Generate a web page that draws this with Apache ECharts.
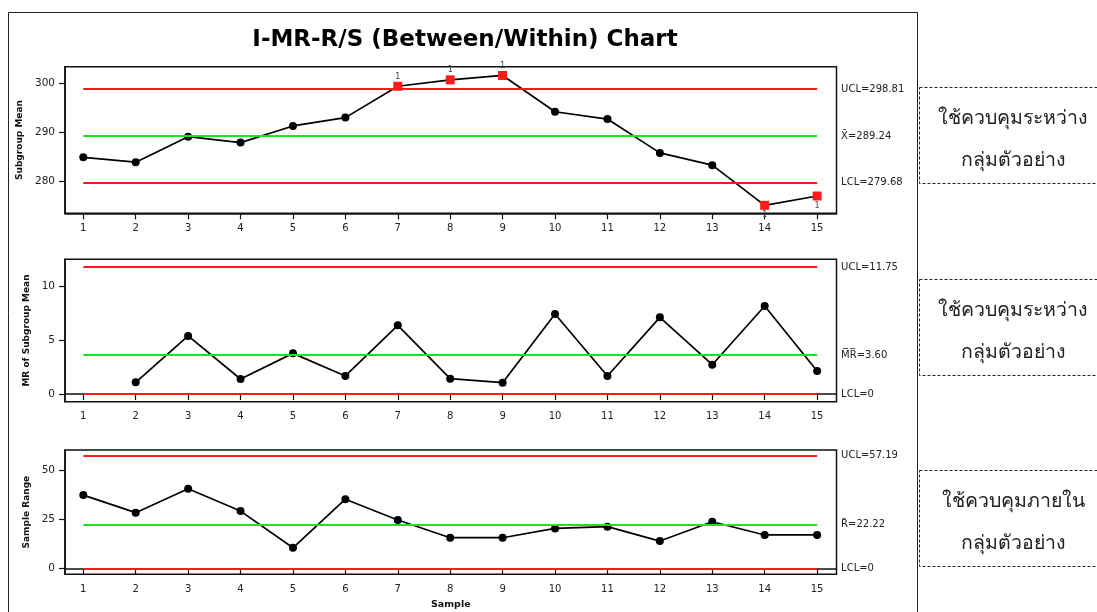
<!DOCTYPE html>
<html><head><meta charset="utf-8">
<script src="https://cdn.jsdelivr.net/npm/echarts@6/dist/echarts.min.js"></script>
<style>html,body{margin:0;padding:0;background:#fff}#c{width:1097px;height:612px}</style>
</head><body><div id="c"></div>
<script>
// ---------- data ----------
const samples = [1,2,3,4,5,6,7,8,9,10,11,12,13,14,15];
const subgroupMean = [284.9,283.9,289.1,287.9,291.3,293.0,299.4,300.7,301.6,294.2,292.7,285.8,283.3,275.1,277.0];
const mrOfMean = [null,1.08,5.37,1.39,3.76,1.67,6.35,1.42,1.05,7.40,1.67,7.09,2.71,8.14,2.13];
const sampleRange = [37.3,28.4,40.5,29.2,10.6,35.2,24.7,15.7,15.7,20.4,21.3,14.0,23.8,17.1,17.1];
const outOfControl = [7,8,9,14,15];           // subgroup-mean samples flagged by test 1
const meanLimits = [298.81, 289.24, 279.68];   // UCL, CL, LCL
const mrLimits = [11.75, 3.60, 0];
const rangeLimits = [57.19, 22.22, 0];
const meanLimitLabels = ['UCL=298.81','X\u0304=289.24','LCL=279.68'];
const mrLimitLabels = ['UCL=11.75','M\u0305R\u0305=3.60','LCL=0'];
const rangeLimitLabels = ['UCL=57.19','R\u0304=22.22','LCL=0'];
const xTicks = [1,2,3,4,5,6,7,8,9,10,11,12,13,14,15];
const meanTicks = [280,290,300];
const mrTicks = [0,5,10];
const rangeTicks = [0,25,50];
const title = 'I-MR-R/S (Between/Within) Chart';
const yNames = ['Subgroup Mean','MR of Subgroup Mean','Sample Range'];
const xName = 'Sample';
const noteLines = [['ใช้ควบคุมระหว่าง','กลุ่มตัวอย่าง'],['ใช้ควบคุมระหว่าง','กลุ่มตัวอย่าง'],['ใช้ควบคุมภายใน','กลุ่มตัวอย่าง']];

// ---------- layout ----------
const RED = '#ff1a1a', GREEN = '#19e619', FONT = 'DejaVu Sans';
const grids = [
  {left:65, top:66.7, width:771.5, height:146.6},
  {left:65, top:259.3, width:771.5, height:142.4},
  {left:65, top:450, width:771.5, height:124.3}
];
const yRanges = [[273.47,303.39],[-0.71,12.46],[-2.84,60.16]];
const yTickSets = [meanTicks, mrTicks, rangeTicks];
const nameGaps = [37, 32, 31];
const limitSets = [meanLimits, mrLimits, rangeLimits];
const limitLabelSets = [meanLimitLabels, mrLimitLabels, rangeLimitLabels];
const valueSets = [subgroupMean, mrOfMean, sampleRange];
const limitColors = [RED, GREEN, RED];

const xAxes = grids.map((g,i)=>({
  type:'value', gridIndex:i, min:0.651, max:15.37,
  name: i===2 ? xName : '', nameLocation:'middle', nameGap:25,
  nameTextStyle:{fontFamily:FONT, fontWeight:'bold', fontSize:9.5, color:'#111'},
  axisLine:{show:true, lineStyle:{color:'#111', width:1.5}},
  axisTick:{show:true, customValues:xTicks, length:6, inside:false, lineStyle:{color:'#111', width:1.2}},
  axisLabel:{show:true, customValues:xTicks, fontFamily:FONT, fontSize:10, color:'#222', margin:10},
  splitLine:{show:false}
}));
const yAxes = grids.map((g,i)=>({
  type:'value', gridIndex:i, min:yRanges[i][0], max:yRanges[i][1],
  name: yNames[i], nameLocation:'middle', nameGap:nameGaps[i], nameRotate:90,
  nameTextStyle:{fontFamily:FONT, fontWeight:'bold', fontSize:9, color:'#111'},
  axisLine:{show:true, lineStyle:{color:'#111', width:1.5}},
  axisTick:{show:true, customValues:yTickSets[i], length:6, inside:false, lineStyle:{color:'#111', width:1.2}},
  axisLabel:{show:true, customValues:yTickSets[i], fontFamily:FONT, fontSize:10.5, color:'#222', margin:10},
  splitLine:{show:false}
}));

const series = [];
valueSets.forEach((vals,i)=>{
  // control limits
  series.push({
    type:'line', xAxisIndex:i, yAxisIndex:i, data:[], z:1, silent:true,
    markLine:{
      silent:true, symbol:['none','none'], animation:false,
      data: limitSets[i].map((v,k)=>[
        {coord:[samples[0], v], lineStyle:{color:limitColors[k], width:2, type:'solid'},
         label:{show:true, position:'end', distance:24, formatter:limitLabelSets[i][k],
                fontFamily:FONT, fontSize:10, color:'#222'}},
        {coord:[samples[samples.length-1], v]}
      ])
    }
  });
  // data
  const data = [];
  samples.forEach((s,k)=>{
    if (vals[k] == null) return;
    const bad = i===0 && outOfControl.includes(s);
    const item = {value:[s, vals[k]]};
    if (bad) {
      item.symbol = 'rect'; item.symbolSize = 9;
      item.itemStyle = {color:RED};
      item.label = {show:true, formatter:'1', position: vals[k] > meanLimits[0] ? 'top' : 'bottom',
        distance:1, fontFamily:FONT, fontSize:8, color:'#444'};
    }
    data.push(item);
  });
  series.push({
    type:'line', xAxisIndex:i, yAxisIndex:i, data, z:3,
    symbol:'circle', symbolSize:8, showSymbol:true,
    itemStyle:{color:'#000'}, lineStyle:{color:'#000', width:1.7},
    label:{show:false}, animation:false
  });
});

const graphic = [
  {type:'rect', shape:{x:8.5, y:12.5, width:909, height:640}, style:{fill:'none', stroke:'#222', lineWidth:1}, z:-1},
  {type:'text', x:465, y:40, style:{text:title, fontFamily:FONT, fontWeight:'bold', fontSize:23, fill:'#000', align:'center', verticalAlign:'middle'}}
];
const boxTops = [87.5, 279.5, 470.5];
boxTops.forEach((t,i)=>{
  graphic.push({type:'rect', shape:{x:919.5, y:t, width:200, height:96},
    style:{fill:'none', stroke:'#222', lineWidth:1, lineDash:[3,2]}});
  noteLines[i].forEach((ln,k)=>{
    graphic.push({type:'text', x:1013, y:t+31+k*42, style:{text:ln, fontFamily:'Noto Sans, DejaVu Sans, sans-serif', fontSize:19.5, fill:'#222', align:'center', verticalAlign:'middle'}});
  });
});

const chart = echarts.init(document.getElementById('c'), null, {renderer:'canvas'});
chart.setOption({
  animation:false,
  backgroundColor:'#fff',
  grid: grids.map(g=>Object.assign({show:true, borderColor:'#111', borderWidth:1.5, backgroundColor:'transparent'}, g)),
  xAxis:xAxes, yAxis:yAxes, series, graphic
});
</script></body></html>
